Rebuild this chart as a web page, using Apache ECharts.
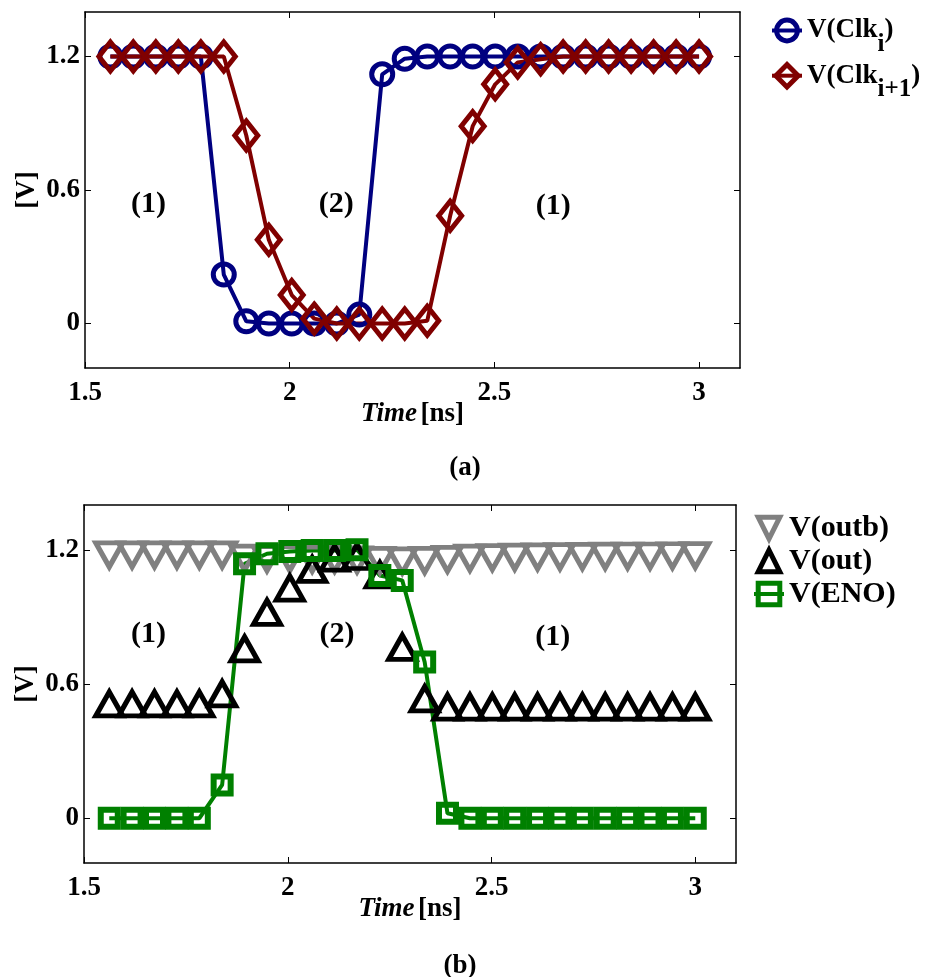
<!DOCTYPE html>
<html>
<head>
<meta charset="utf-8">
<script src="https://cdn.jsdelivr.net/npm/echarts@6/dist/echarts.min.js"></script>
<style>html,body{margin:0;padding:0;background:#fff;}#c{width:925px;height:977px;}</style>
</head>
<body>
<div id="c"></div>
<script>
// ---- data ----
const times = [1.562,1.618,1.673,1.728,1.783,1.839,1.894,1.949,2.005,2.060,2.115,2.170,2.226,2.281,2.336,2.392,2.447,2.502,2.557,2.613,2.668,2.723,2.779,2.834,2.889,2.944,3.000];
const clkI  = [1.2,1.2,1.2,1.2,1.2,0.22,0.01,0.0,0.0,0.0,0.0,0.04,1.12,1.19,1.2,1.2,1.2,1.2,1.2,1.2,1.2,1.2,1.2,1.2,1.2,1.2,1.2];
const clkI1 = [1.2,1.2,1.2,1.2,1.2,1.2,0.845,0.376,0.128,0.022,0.0,0.0,0.0,0.0,0.012,0.484,0.887,1.075,1.173,1.188,1.2,1.2,1.2,1.2,1.2,1.2,1.2];
const outb  = [1.195,1.195,1.195,1.195,1.195,1.195,1.18,1.178,1.178,1.176,1.175,1.173,1.17,1.168,1.17,1.175,1.18,1.183,1.185,1.186,1.187,1.188,1.189,1.19,1.19,1.191,1.192];
const outV  = [0.493,0.493,0.493,0.493,0.493,0.538,0.739,0.902,1.011,1.094,1.145,1.152,1.07,0.746,0.516,0.479,0.479,0.479,0.479,0.479,0.479,0.479,0.479,0.479,0.479,0.479,0.479];
const eno   = [0,0,0,0,0,0.149,1.137,1.182,1.192,1.197,1.197,1.2,1.085,1.063,0.698,0.022,0.0,0,0,0,0,0,0,0,0,0,0];
const xTicks = [1.5,2,2.5,3];
const yTicks = [0,0.6,1.2];
const annTop = [[1.655,0.534,'(1)'],[2.114,0.534,'(2)'],[2.644,0.525,'(1)']];
const annBot = [[1.658,0.822,'(1)'],[2.121,0.822,'(2)'],[2.650,0.809,'(1)']];

const FF = 'Liberation Serif, Times New Roman, serif';
const pair = (ys) => times.map((t,i)=>[t, ys[i]]);

function xAxes(gi){
  return [
    {gridIndex:gi, type:'value', position:'bottom', min:1.5, max:3.1,
     axisLine:{onZero:false,lineStyle:{color:'#000',width:1.5}},
     axisTick:{inside:true,length:6,customValues:xTicks,lineStyle:{color:'#000'}},
     axisLabel:{customValues:xTicks,margin:12,color:'#000',fontFamily:FF,fontWeight:'bold',fontSize:27},
     splitLine:{show:false},
     name:'{i|Time} {n|[ns]}', nameLocation:'middle', nameGap:33, nameMoveOverlap:false,
     nameTextStyle:{rich:{i:{fontFamily:FF,fontWeight:'bold',fontStyle:'italic',fontSize:27,color:'#000'},
                          n:{fontFamily:FF,fontWeight:'bold',fontSize:27,color:'#000'}}}},
    {gridIndex:gi, type:'value', position:'top', min:1.5, max:3.1,
     axisLine:{onZero:false,lineStyle:{color:'#000',width:1.5}},
     axisTick:{inside:true,length:6,customValues:xTicks,lineStyle:{color:'#000'}},
     axisLabel:{show:false}, splitLine:{show:false}}
  ];
}
function yAxes(gi){
  return [
    {gridIndex:gi, type:'value', position:'left', min:-0.2, max:1.4,
     axisLine:{show:true,onZero:false,lineStyle:{color:'#000',width:1.5}},
     axisTick:{show:true,inside:true,length:6,customValues:yTicks,lineStyle:{color:'#000'}},
     axisLabel:{customValues:yTicks,margin:5,color:'#000',fontFamily:FF,fontWeight:'bold',fontSize:27},
     splitLine:{show:false},
     name:'[V]', nameLocation:'middle', nameGap:44, nameMoveOverlap:false,
     nameTextStyle:{fontFamily:FF,fontWeight:'bold',fontSize:27,color:'#000'}},
    {gridIndex:gi, type:'value', position:'right', min:-0.2, max:1.4,
     axisLine:{show:true,onZero:false,lineStyle:{color:'#000',width:1.5}},
     axisTick:{show:true,inside:true,length:6,customValues:yTicks,lineStyle:{color:'#000'}},
     axisLabel:{show:false}, splitLine:{show:false}}
  ];
}

const legText = {fontFamily:FF,fontWeight:'bold',fontSize:30,color:'#000'};
const names = {
  'clki':'{m|V(Clk}{s|i}{m|)}',
  'clki1':'{m|V(Clk}{s|i+1}{m|)}'
};
const richSub = {
  m:{fontFamily:FF,fontWeight:'bold',fontSize:27,color:'#000'},
  s:{fontFamily:FF,fontWeight:'bold',fontSize:25,color:'#000',padding:[28,0,0,0]}
};
const NONE = 'rgba(0,0,0,0)';

const chart = echarts.init(document.getElementById('c'));
const option = {
  animation:false,
  backgroundColor:'#fff',
  grid:[
    {left:85, right:185, top:12, height:356},
    {left:84, right:189, top:505, height:358}
  ],
  xAxis:[...xAxes(0), ...xAxes(1)],
  yAxis:[...yAxes(0), ...yAxes(1)],
  legend:[
    {data:['clki'], orient:'vertical', left:770, top:17, padding:0, itemWidth:30, itemHeight:26, itemGap:0,
     itemStyle:{borderWidth:5}, lineStyle:{width:4},
     formatter:(n)=>names[n], textStyle:{rich:richSub}},
    {data:['clki1'], orient:'vertical', left:770, top:62, padding:0, itemWidth:30, itemHeight:28, itemGap:0,
     itemStyle:{borderWidth:5}, lineStyle:{width:4},
     formatter:(n)=>names[n], textStyle:{rich:richSub}},
    {data:['V(outb)','V(out)','V(ENO)'], orient:'vertical', left:752, top:513, padding:0, itemWidth:30, itemHeight:27, itemGap:3,
     itemStyle:{borderWidth:5}, lineStyle:{width:4},
     textStyle:Object.assign({lineHeight:30},legText)}
  ],
  series:[
    {name:'clki', type:'line', xAxisIndex:0, yAxisIndex:0, data:pair(clkI),
     symbol:'circle', symbolSize:21, lineStyle:{color:'#000080',width:4},
     itemStyle:{color:NONE,borderColor:'#000080',borderWidth:5}},
    {name:'clki1', type:'line', xAxisIndex:0, yAxisIndex:0, data:pair(clkI1),
     symbol:'diamond', symbolSize:[23,29], lineStyle:{color:'#800000',width:4},
     itemStyle:{color:NONE,borderColor:'#800000',borderWidth:5}},
    {name:'V(outb)', type:'line', xAxisIndex:2, yAxisIndex:2, data:pair(outb),
     symbol:'triangle', symbolRotate:180, symbolSize:[27,24], symbolOffset:[0,4],
     lineStyle:{color:'#808080',width:4,opacity:0},
     itemStyle:{color:NONE,borderColor:'#808080',borderWidth:5}},
    {name:'V(out)', type:'line', xAxisIndex:2, yAxisIndex:2, data:pair(outV),
     symbol:'triangle', symbolSize:[27,24], symbolOffset:[0,-4],
     lineStyle:{color:'#000',width:4,opacity:0},
     itemStyle:{color:NONE,borderColor:'#000',borderWidth:5}},
    {name:'V(ENO)', type:'line', xAxisIndex:2, yAxisIndex:2, data:pair(eno),
     symbol:'rect', symbolSize:17, lineStyle:{color:'#008000',width:4},
     itemStyle:{color:NONE,borderColor:'#008000',borderWidth:6}}
  ]
};
chart.setOption(option);

const g = [];
function addAnn(list, gi){
  list.forEach(a=>{
    const p = chart.convertToPixel({gridIndex:gi},[a[0],a[1]]);
    g.push({type:'text', x:p[0], y:p[1], style:{text:a[2], fontFamily:FF, fontWeight:'bold', fontSize:30, fill:'#000', align:'center', verticalAlign:'middle'}});
  });
}
addAnn(annTop,0); addAnn(annBot,1);
g.push({type:'text', x:465, y:468, style:{text:'(a)', fontFamily:FF, fontWeight:'bold', fontSize:27, fill:'#000', align:'center', verticalAlign:'middle'}});
g.push({type:'text', x:460, y:966, style:{text:'(b)', fontFamily:FF, fontWeight:'bold', fontSize:27, fill:'#000', align:'center', verticalAlign:'middle'}});
chart.setOption({graphic:g});
</script>
</body>
</html>
